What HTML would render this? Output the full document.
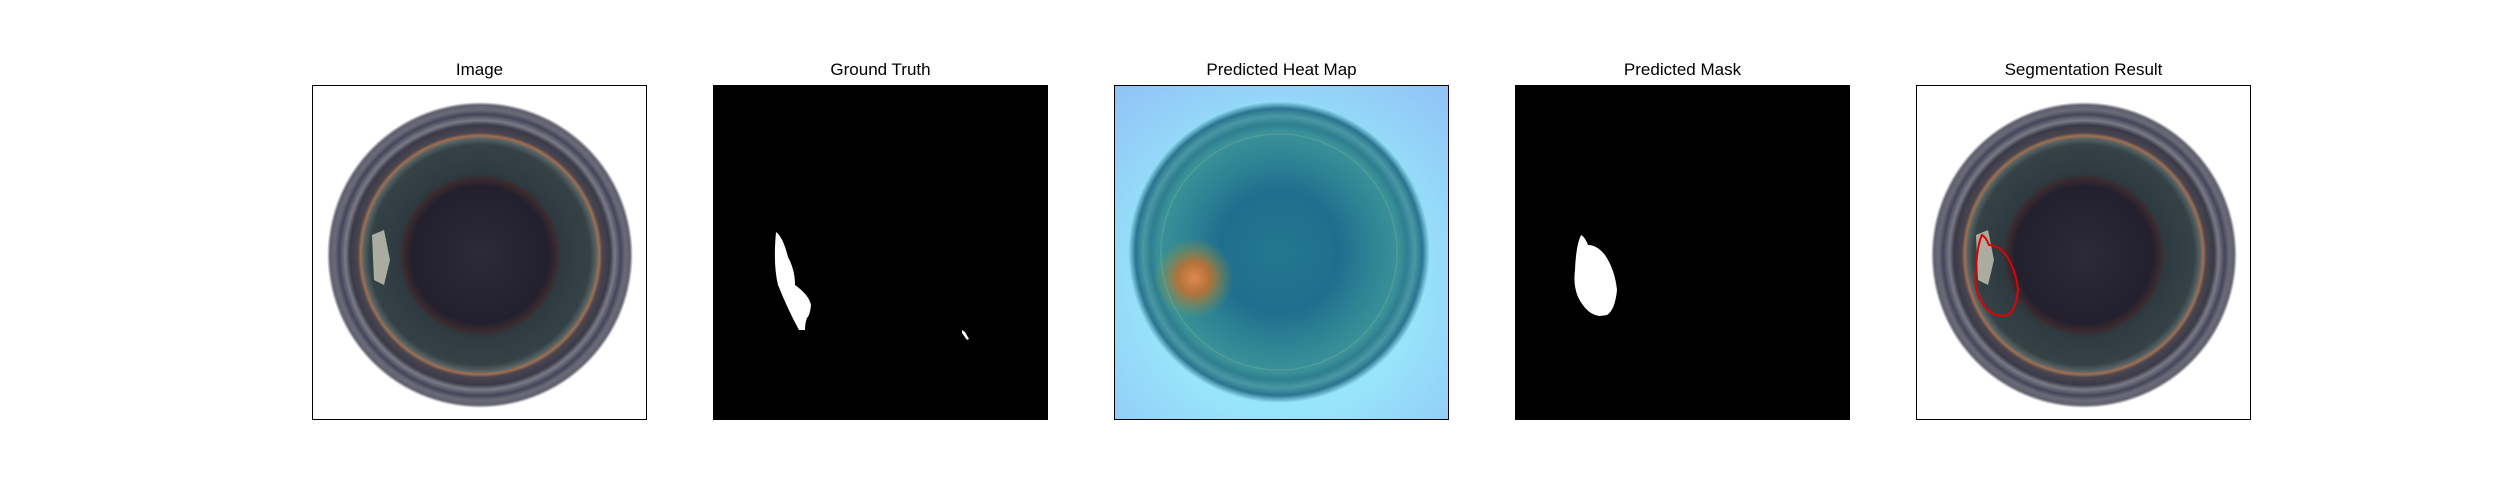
<!DOCTYPE html>
<html><head><meta charset="utf-8">
<style>
html,body{margin:0;padding:0;background:#fff;}
body{width:2500px;height:500px;position:relative;overflow:hidden;font-family:"Liberation Sans","DejaVu Sans",sans-serif;}
.t{position:absolute;top:60px;width:335px;text-align:center;font-size:17px;color:#000;}
.p{position:absolute;top:85px;width:335px;height:335px;}
</style></head><body>
<svg width="0" height="0" style="position:absolute">
<defs>
<radialGradient id="disk" cx="168" cy="170" r="153" gradientUnits="userSpaceOnUse">
<stop offset="0" stop-color="#2c2a38"/>
<stop offset="0.45" stop-color="#23202e"/>
<stop offset="0.5" stop-color="#3a2a2e"/>
<stop offset="0.53" stop-color="#2e3a40"/>
<stop offset="0.72" stop-color="#344246"/>
<stop offset="0.76" stop-color="#566264"/>
<stop offset="0.78" stop-color="#a07050"/>
<stop offset="0.8" stop-color="#4a4650"/>
<stop offset="0.85" stop-color="#3a3a48"/>
<stop offset="0.88" stop-color="#7a7a86"/>
<stop offset="0.92" stop-color="#45455a"/>
<stop offset="0.95" stop-color="#6a6a78"/>
<stop offset="0.98" stop-color="#60606e"/>
<stop offset="1" stop-color="#ffffff"/>
</radialGradient>
<radialGradient id="hbg" cx="168" cy="200" r="260" gradientUnits="userSpaceOnUse">
<stop offset="0.5" stop-color="#98e4fa"/>
<stop offset="1" stop-color="#90c2f6"/>
</radialGradient>
<radialGradient id="hdisk" cx="165" cy="167" r="151" gradientUnits="userSpaceOnUse">
<stop offset="0" stop-color="#24788e"/>
<stop offset="0.4" stop-color="#1f6e8e"/>
<stop offset="0.6" stop-color="#2e8294"/>
<stop offset="0.8" stop-color="#3a9298"/>
<stop offset="0.85" stop-color="#2e7e90"/>
<stop offset="0.9" stop-color="#4a98a4"/>
<stop offset="0.95" stop-color="#2a7490"/>
<stop offset="1" stop-color="#98e4fa"/>
</radialGradient>
<radialGradient id="hot" cx="80" cy="193" r="40" gradientUnits="userSpaceOnUse">
<stop offset="0" stop-color="#e08a50"/>
<stop offset="0.4" stop-color="#c07030" stop-opacity="0.9"/>
<stop offset="1" stop-color="#8a9a40" stop-opacity="0"/>
</radialGradient>
</defs>
</svg>

<div class="t" style="left:312px">Image</div>
<svg class="p" style="left:312px" viewBox="0 0 335 335">
<rect x="0.5" y="0.5" width="334" height="334" fill="#fff" stroke="#000"/>
<circle cx="168" cy="170" r="153" fill="url(#disk)"/>
<path d="M60 150 L72 145 L78 175 L72 200 L62 195 Z" fill="#c8c8b8" opacity="0.8"/>
</svg>

<div class="t" style="left:713px">Ground Truth</div>
<svg class="p" style="left:713px" viewBox="0 0 335 335">
<rect width="335" height="335" fill="#000"/>
<path d="M63 147 Q70 152 75 172 Q82 185 82 200 Q96 210 98 220 Q97 230 94 233 Q92 238 92 245 L86 245 Q75 225 65 200 Q60 180 63 147 Z" fill="#fff"/>
<path d="M249 245 L252 247 L256 254 L254 255 L249 248 Z" fill="#fff"/>
</svg>

<div class="t" style="left:1114px">Predicted Heat Map</div>
<svg class="p" style="left:1114px" viewBox="0 0 335 335">
<rect x="0.5" y="0.5" width="334" height="334" fill="url(#hbg)" stroke="#000"/>
<circle cx="165" cy="167" r="151" fill="url(#hdisk)"/>
<circle cx="80" cy="193" r="40" fill="url(#hot)"/>
<circle cx="165" cy="167" r="118" fill="none" stroke="#6aa89a" stroke-width="1.5" opacity="0.5"/>
</svg>

<div class="t" style="left:1515px">Predicted Mask</div>
<svg class="p" style="left:1515px" viewBox="0 0 335 335">
<rect width="335" height="335" fill="#000"/>
<path d="M66 150 Q70 152 73 160 Q82 160 90 170 Q100 185 102 205 Q100 225 92 230 L85 231 Q72 230 63 212 Q58 200 60 185 Q61 160 66 150 Z" fill="#fff"/>
</svg>

<div class="t" style="left:1916px">Segmentation Result</div>
<svg class="p" style="left:1916px" viewBox="0 0 335 335">
<rect x="0.5" y="0.5" width="334" height="334" fill="#fff" stroke="#000"/>
<circle cx="168" cy="170" r="153" fill="url(#disk)"/>
<path d="M60 150 L72 145 L78 175 L72 200 L62 195 Z" fill="#c8c8b8" opacity="0.8"/>
<path d="M66 150 Q70 152 73 160 Q82 160 90 170 Q100 185 102 205 Q100 225 92 230 L85 231 Q72 230 63 212 Q58 200 60 185 Q61 160 66 150 Z" fill="none" stroke="#e00000" stroke-width="2"/>
</svg>
</body></html>
